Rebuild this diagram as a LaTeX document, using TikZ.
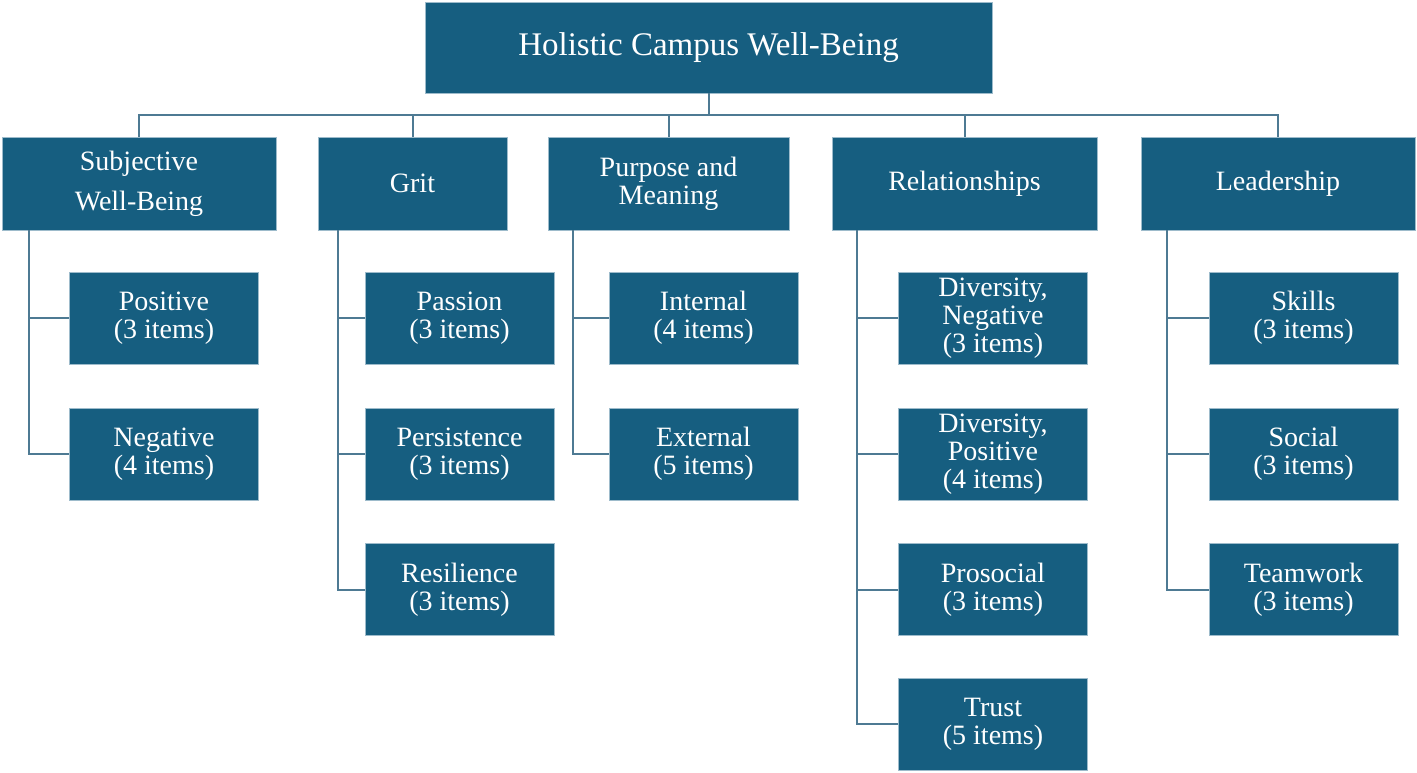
\documentclass[tikz,border=0pt]{standalone}
\usepackage{fontspec}
\setmainfont{Liberation Serif}
\definecolor{boxfill}{HTML}{165E80}
\definecolor{boxline}{HTML}{9DBBCB}
\definecolor{conn}{HTML}{4E7A93}
\begin{document}
\begin{tikzpicture}[x=0.5pt,y=-0.5pt,
  box/.style={draw=boxline,line width=0.4pt,fill=boxfill,text=white,align=center,
    inner sep=0pt,font=\fontsize{14}{14}\selectfont},
  rootbox/.style={box,minimum width=283.5pt,minimum height=45.5pt,font=\fontsize{16.5}{18}\selectfont},
  lone/.style={box,minimum height=46.5pt},
  ltwo/.style={box,minimum height=46pt,minimum width=94.5pt},
  link/.style={draw=conn,line width=1pt}]
\useasboundingbox (0,0) rectangle (1417,772);
\node[rootbox] (root) at (708.5,47.5) {Holistic Campus Well-Being};
\node[lone,minimum width=137pt,font=\fontsize{14}{20}\selectfont] (subj) at (139,183.5) {Subjective\\Well-Being};
\node[lone,minimum width=94.5pt] (grit) at (412.5,183.5) {Grit};
\node[lone,minimum width=120.5pt] (purp) at (668.5,183.5) {Purpose and\\Meaning};
\node[lone,minimum width=132.5pt] (rel) at (964.5,183.5) {Relationships};
\node[lone,minimum width=137pt] (lead) at (1278,183.5) {Leadership};
% level 2
\node[ltwo] (s1) at (164,318) {Positive\\(3 items)};
\node[ltwo] (s2) at (164,454) {Negative\\(4 items)};
\node[ltwo] (g1) at (459.5,318) {Passion\\(3 items)};
\node[ltwo] (g2) at (459.5,454) {Persistence\\(3 items)};
\node[ltwo] (g3) at (459.5,589.5) {Resilience\\(3 items)};
\node[ltwo] (p1) at (703.5,318) {Internal\\(4 items)};
\node[ltwo] (p2) at (703.5,454) {External\\(5 items)};
\node[ltwo] (r1) at (993,318) {Diversity,\\Negative\\(3 items)};
\node[ltwo] (r2) at (993,454) {Diversity,\\Positive\\(4 items)};
\node[ltwo] (r3) at (993,589.5) {Prosocial\\(3 items)};
\node[ltwo] (r4) at (993,724) {Trust\\(5 items)};
\node[ltwo] (l1) at (1303.5,318) {Skills\\(3 items)};
\node[ltwo] (l2) at (1303.5,454) {Social\\(3 items)};
\node[ltwo] (l3) at (1303.5,589.5) {Teamwork\\(3 items)};
% connectors top
\coordinate (bus) at (0,115);
\draw[link] (root.south) -- (root.south |- bus);
\draw[link] (subj.north) -- (subj.north |- bus) -- (lead.north |- bus) -- (lead.north);
\draw[link] (grit.north) -- (grit.north |- bus);
\draw[link] (purp.north) -- (purp.north |- bus);
\draw[link] (rel.north) -- (rel.north |- bus);
% spines
\coordinate (sps) at (29,230);
\coordinate (spg) at (338,230);
\coordinate (spp) at (573,230);
\coordinate (spr) at (857,230);
\coordinate (spl) at (1167,230);
\draw[link] (sps) |- (s2.west); \draw[link] (sps) |- (s1.west);
\draw[link] (spg) |- (g3.west); \draw[link] (spg) |- (g2.west); \draw[link] (spg) |- (g1.west);
\draw[link] (spp) |- (p2.west); \draw[link] (spp) |- (p1.west);
\draw[link] (spr) |- (r4.west); \draw[link] (spr) |- (r3.west); \draw[link] (spr) |- (r2.west); \draw[link] (spr) |- (r1.west);
\draw[link] (spl) |- (l3.west); \draw[link] (spl) |- (l2.west); \draw[link] (spl) |- (l1.west);
\end{tikzpicture}
\end{document}
